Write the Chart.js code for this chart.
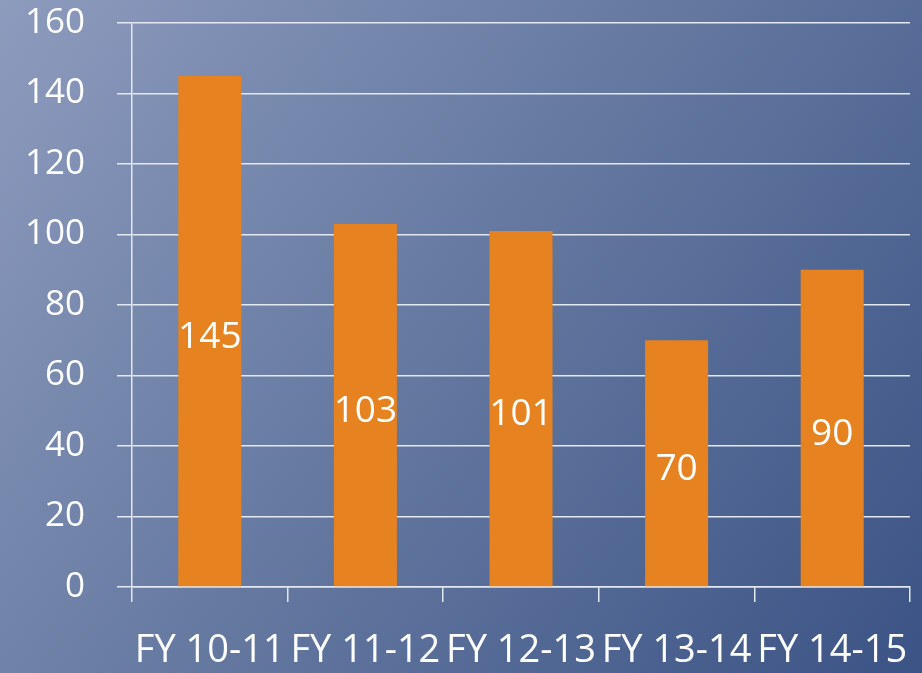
<!DOCTYPE html>
<html>
<head>
<meta charset="utf-8">
<script src="https://cdn.jsdelivr.net/npm/chart.js@4"></script>
<style>
html,body{margin:0;padding:0;width:922px;height:673px;overflow:hidden;background:#5a6f9c;}
#wrap{position:absolute;left:0;top:0;width:922px;height:673px;}
</style>
</head>
<body>
<div id="wrap"><canvas id="c"></canvas></div>
<script>
const categories = ["FY 10-11", "FY 11-12", "FY 12-13", "FY 13-14", "FY 14-15"];
const values = [145, 103, 101, 70, 90];
const yTicks = [0, 20, 40, 60, 80, 100, 120, 140, 160];

const FONT = "'Open Sans', 'Noto Sans', sans-serif";

const bgPlugin = {
  id: 'bg',
  beforeDraw(chart) {
    const {ctx, width, height} = chart;
    const g = ctx.createLinearGradient(0, 0, width, height);
    g.addColorStop(0, '#8d9bbd');
    g.addColorStop(0.5, '#63779f');
    g.addColorStop(1, '#3b5385');
    ctx.save();
    ctx.fillStyle = g;
    ctx.fillRect(0, 0, width, height);
    ctx.restore();
  }
};

const labelPlugin = {
  id: 'vals',
  afterDatasetsDraw(chart) {
    const {ctx} = chart;
    const meta = chart.getDatasetMeta(0);
    ctx.save();
    ctx.fillStyle = '#ffffff';
    ctx.font = '37px ' + FONT;
    ctx.textAlign = 'center';
    ctx.textBaseline = 'middle';
    meta.data.forEach((bar, i) => {
      const y = (bar.y + bar.base) / 2 + 6;
      ctx.fillText(String(values[i]), bar.x, y);
    });
    ctx.restore();
  }
};

new Chart(document.getElementById('c'), {
  type: 'bar',
  data: {
    labels: categories,
    datasets: [{
      data: values,
      backgroundColor: '#e6821f',
      borderWidth: 0,
      barPercentage: 0.405,
      categoryPercentage: 1.0
    }]
  },
  options: {
    responsive: true,
    maintainAspectRatio: false,
    animation: false,
    devicePixelRatio: 1,
    layout: { padding: { left: 0, right: 12, top: 23, bottom: 0 } },
    plugins: { legend: { display: false }, tooltip: { enabled: false } },
    scales: {
      x: {
        offset: true,
        afterFit(axis) {
          axis.height = 86;
          axis.paddingLeft = 0; axis.paddingRight = 0;
          axis.paddingTop = 0; axis.paddingBottom = 0;
        },
        grid: {
          display: true,
          offset: true,
          drawOnChartArea: false,
          drawTicks: true,
          tickLength: 15,
          color: '#e4e8f0',
          lineWidth: 1.5
        },
        border: { display: true, color: '#e4e8f0', width: 1.5 },
        ticks: {
          color: '#ffffff',
          font: { family: FONT, size: 38 },
          padding: 26,
          maxRotation: 0,
          autoSkip: false
        }
      },
      y: {
        min: 0,
        max: 160,
        afterBuildTicks(axis) { axis.ticks = yTicks.map(v => ({ value: v })); },
        afterFit(axis) {
          axis.width = 132;
          axis.paddingLeft = 0; axis.paddingRight = 0;
          axis.paddingTop = 0; axis.paddingBottom = 0;
        },
        grid: {
          color: '#e4e8f0',
          lineWidth: 1.5,
          drawTicks: true,
          tickLength: 15
        },
        border: { display: true, color: '#e4e8f0', width: 1.5 },
        ticks: {
          color: '#ffffff',
          font: { family: FONT, size: 35 },
          padding: 32
        }
      }
    }
  },
  plugins: [bgPlugin, labelPlugin]
});
</script>
</body>
</html>
